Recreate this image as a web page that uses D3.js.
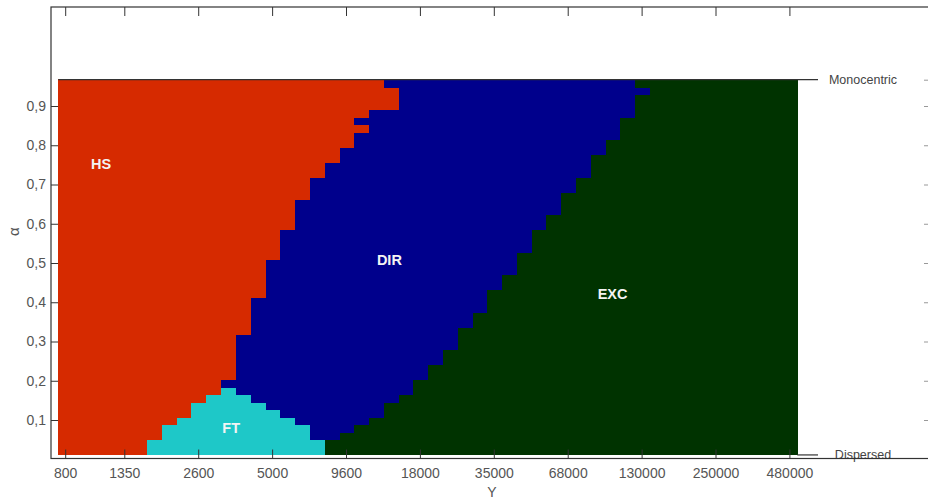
<!DOCTYPE html>
<html>
<head>
<meta charset="utf-8">
<script src="https://cdn.jsdelivr.net/npm/d3@7"></script>
<style>
  body { margin: 0; background: #fff; }
  svg { display: block; font-family: "Liberation Sans", Arial, sans-serif; }
</style>
</head>
<body>
<svg id="chart" width="928" height="499"></svg>
<script>
// ---------------- DATA ----------------
// Grid: 50 columns of Y (log-spaced income levels), 50 rows of alpha (bottom = row 0)
const nCols = 50;
const nRows = 50;
const alphaMin = 0.011;   // "Dispersed"
const alphaMax = 0.967;   // "Monocentric"

// x tick labels and the column they sit on
const xTickCols   = [0, 4, 9, 14, 19, 24, 29, 34, 39, 44, 49];
const xTickLabels = ["800", "1350", "2600", "5000", "9600", "18000", "35000", "68000", "130000", "250000", "480000"];

// alpha ticks
const alphaTicks      = [0.1, 0.2, 0.3, 0.4, 0.5, 0.6, 0.7, 0.8, 0.9];
const alphaTickLabels = ["0,1", "0,2", "0,3", "0,4", "0,5", "0,6", "0,7", "0,8", "0,9"];

// Per row (row 0 = bottom): column where HS ends (exclusive)
const hsEnd = [6, 6, 7, 7, 8, 9, 9, 10, 11, 11,
               12, 12, 12, 12, 12, 12,
               13, 13, 13, 13, 13,
               14, 14, 14, 14, 14,
               15, 15, 15, 15,
               16, 16, 16, 16,
               17, 17, 17,
               18, 18,
               19, 19,
               20, 20,
               21, 20, 21,
               23, 23, 23,
               22];

// FT occupies rows 0..8 : start / end column (exclusive)
const ftStart = [6, 6, 7, 7, 8, 9, 9, 10, 11];
const ftEnd   = [18, 18, 17, 17, 16, 15, 14, 13, 12];

// Per row: column where DIR ends and EXC begins
const dirEnd = [18, 18, 19, 20, 21, 22, 22, 23, 24, 24,
                25, 25, 26, 26, 27, 27, 27, 28, 28,
                29, 29, 29, 30, 30, 31, 31, 31,
                32, 32, 32, 33, 33, 34, 34, 34,
                35, 35, 36, 36, 36, 37, 37,
                38, 38, 38, 39, 39, 39, 40, 39];

// Region names, colours and label anchor (column, alpha)
const regionNames  = ["HS", "FT", "DIR", "EXC"];
const regionColors = ["#d62a00", "#1ec8c8", "#00008c", "#003300"];
const labelCol     = [2.9, 11.7, 22.4, 37.5];
const labelAlpha   = [0.752, 0.080, 0.508, 0.421];

const sideLabels = ["Monocentric", "Dispersed"];
const sideAlpha  = [alphaMax, alphaMin];

// ---------------- LAYOUT ----------------
const svg = d3.select("#chart");
const frame = { left: 51, right: 929, top: 7, bottom: 458.5 };
const colorOf = d3.scaleOrdinal().domain(regionNames).range(regionColors);

const x = d3.scaleBand().domain(d3.range(nCols)).range([58.3, 797.3]).padding(0);
const xEdge = d3.scaleLinear().domain([0, nCols]).range([58.3, 797.3]);
const yA = d3.scaleLinear().domain([0, 1]).range([459.25, 66.75]);
const yRow = d3.scaleBand().domain(d3.range(nRows)).range([yA(alphaMin), yA(alphaMax)]).padding(0);

// build cells (segments) per row
const cells = [];
for (let r = 0; r < nRows; r++) {
  cells.push({ region: "EXC", row: r, c0: dirEnd[r], c1: nCols });
  cells.push({ region: "DIR", row: r, c0: hsEnd[r], c1: dirEnd[r] });
  cells.push({ region: "HS", row: r, c0: 0, c1: hsEnd[r] });
  if (r < ftStart.length) cells.push({ region: "FT", row: r, c0: ftStart[r], c1: ftEnd[r] });
}

svg.append("g").attr("shape-rendering", "crispEdges")
  .selectAll("rect").data(cells.filter(d => d.c1 > d.c0)).join("rect")
  .attr("x", d => xEdge(d.c0))
  .attr("width", d => xEdge(d.c1) - xEdge(d.c0) + 0.4)
  .attr("y", d => yRow(d.row) - 0.3)
  .attr("height", yRow.bandwidth() + 0.6)
  .attr("fill", d => colorOf(d.region));

// Monocentric / Dispersed reference lines
sideAlpha.forEach((a, i) => {
  svg.append("line")
    .attr("x1", i === 0 ? xEdge(0) : xEdge(nCols)).attr("x2", 818)
    .attr("y1", yA(a)).attr("y2", yA(a))
    .attr("stroke", "#333").attr("stroke-width", 1.2);
  svg.append("text")
    .attr("x", 863).attr("y", yA(a)).attr("dy", "0.35em")
    .attr("text-anchor", "middle")
    .attr("font-size", 12.5).attr("fill", "#444")
    .text(sideLabels[i]);
});

// Frame
svg.append("rect")
  .attr("x", frame.left).attr("y", frame.top)
  .attr("width", frame.right - frame.left).attr("height", frame.bottom - frame.top)
  .attr("fill", "none").attr("stroke", "#333").attr("stroke-width", 1.2);

// Bottom axis
const xAxis = svg.append("g").attr("transform", `translate(0,${frame.bottom})`)
  .call(d3.axisBottom(x).tickValues(xTickCols)
    .tickFormat((d, i) => xTickLabels[i]).tickSizeInner(-9).tickSizeOuter(0).tickPadding(10));
xAxis.select(".domain").remove();
xAxis.selectAll(".tick line").attr("stroke", "#333");
xAxis.selectAll(".tick text").attr("font-size", 14).attr("fill", "#555")
  .attr("font-family", "Liberation Sans, Arial, sans-serif");

// Top axis (ticks only)
const xTop = svg.append("g").attr("transform", `translate(0,${frame.top})`)
  .call(d3.axisTop(x).tickValues(xTickCols).tickFormat("").tickSizeInner(-9).tickSizeOuter(0));
xTop.select(".domain").remove();
xTop.selectAll(".tick line").attr("stroke", "#333");

// Left axis
const yAxis = svg.append("g").attr("transform", `translate(${frame.left},0)`)
  .call(d3.axisLeft(yA).tickValues(alphaTicks)
    .tickFormat((d, i) => alphaTickLabels[i]).tickSizeInner(-7).tickSizeOuter(0).tickPadding(5));
yAxis.select(".domain").remove();
yAxis.selectAll(".tick line").attr("stroke", "#333");
yAxis.selectAll(".tick text").attr("font-size", 14).attr("fill", "#555")
  .attr("font-family", "Liberation Sans, Arial, sans-serif");

// Right axis (faint ticks at the edge)
const yRight = svg.append("g").attr("transform", `translate(${frame.right},0)`)
  .call(d3.axisRight(yA).tickValues(alphaTicks.concat([alphaMax]))
    .tickFormat("").tickSizeInner(-5).tickSizeOuter(0));
yRight.select(".domain").remove();
yRight.selectAll(".tick line").attr("stroke", "#999");

// Axis titles
svg.append("text")
  .attr("x", 492).attr("y", 497)
  .attr("text-anchor", "middle").attr("font-size", 14).attr("fill", "#555")
  .text("Y");
svg.append("text")
  .attr("transform", `translate(19,${yA(0.58)}) rotate(-90)`)
  .attr("text-anchor", "middle").attr("font-size", 15).attr("fill", "#555")
  .text("α");

// Region labels
svg.append("g").selectAll("text").data(regionNames).join("text")
  .attr("x", (d, i) => xEdge(labelCol[i]))
  .attr("y", (d, i) => yA(labelAlpha[i]))
  .attr("dy", "0.35em")
  .attr("text-anchor", "middle")
  .attr("font-size", 14.5).attr("font-weight", "bold").attr("fill", "#f4f4f4")
  .text(d => d);
</script>
</body>
</html>
